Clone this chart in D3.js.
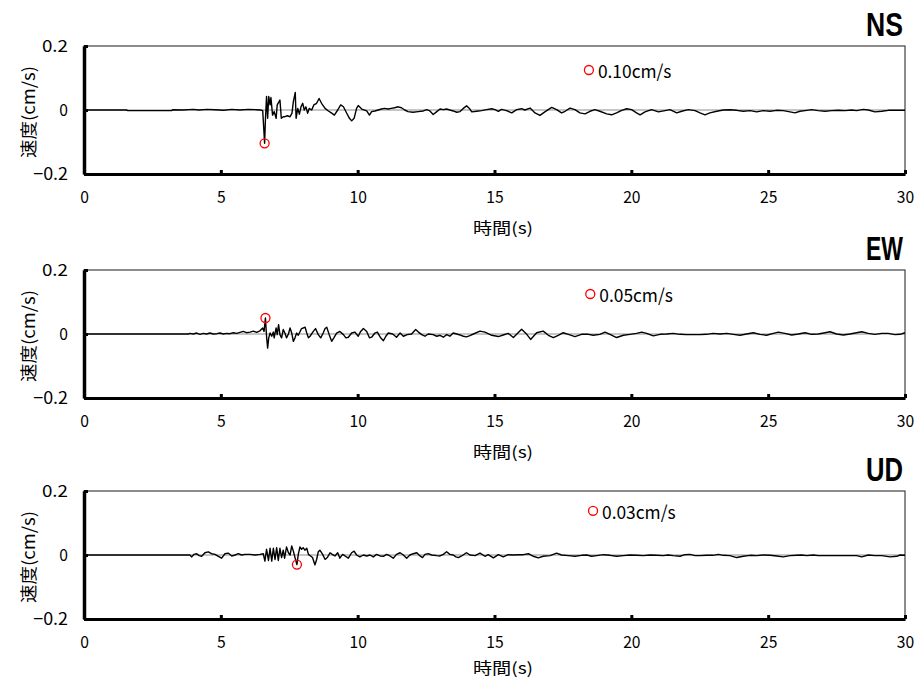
<!DOCTYPE html>
<html><head><meta charset="utf-8">
<script src="https://cdn.jsdelivr.net/npm/d3@7"></script>
<style>body{margin:0;background:#fff} svg{display:block}</style>
</head><body><svg id="c" width="918" height="682"></svg>
<script>
const componentNames = ["NS", "EW", "UD"];
const peakLabels = ["0.10cm/s", "0.05cm/s", "0.03cm/s"];
const xTickValues = [0, 5, 10, 15, 20, 25, 30];
const yTickValues = [-0.2, 0, 0.2];
const yTickLabels = ["\u22120.2", "0", "0.2"];
const xAxisTitle = "時間(s)";
const yAxisTitle = "速度(cm/s)";

// [time (s), velocity (cm/s)]
const nsWave = [[0,0],[1.55,0],[1.6,-0.002],[3.2,-0.002],[3.25,0.001],[3.6,0],[4.0,0.002],[4.2,0],[4.5,0.002],[4.8,0.001],[5.1,-0.001],[5.4,0.002],[5.7,0],[6.0,0.002],[6.3,0.001],[6.45,0],
[6.53,-0.002],[6.60,-0.104],[6.63,-0.03],[6.67,0.042],[6.71,-0.026],[6.75,0.042],[6.80,0.016],[6.83,0.039],[6.89,-0.016],[6.95,-0.005],[7.02,-0.026],[7.06,0.016],[7.16,0.031],[7.21,-0.026],[7.28,-0.021],[7.34,-0.021],[7.43,-0.018],[7.53,-0.021],[7.60,-0.010],[7.65,0.026],[7.72,0.055],[7.75,-0.026],[7.81,0.005],[7.87,-0.013],[7.93,0.010],[7.99,0.021],[8.05,0],[8.11,0.010],[8.17,-0.010],[8.23,0.005],[8.32,0],[8.40,0.016],[8.50,0.021],[8.59,0.036],[8.68,0.021],[8.81,0.005],[8.93,-0.003],[9.05,-0.010],[9.15,-0.016],[9.27,0],[9.38,0.016],[9.48,0.010],[9.60,-0.010],[9.70,-0.026],[9.78,-0.034],[9.87,-0.026],[9.96,0.005],[10.02,0.014],[10.15,0.003],[10.33,-0.003],[10.43,-0.016],[10.51,-0.005],[10.63,-0.003],[10.75,0],[10.87,0.003],[10.99,0.005],[11.11,0.003],[11.23,0.005],[11.35,0.007],[11.48,0.010],[11.60,0.007],[11.72,0],[11.84,-0.005],[12.02,-0.007],[12.21,-0.005],[12.40,-0.003],[12.52,0.001],[12.64,-0.003],[12.76,-0.014],[12.89,-0.005],[13.01,0.003],[13.13,0.001],[13.25,0.003],[13.37,0],[13.49,-0.003],[13.62,-0.007],[13.74,-0.005],[13.86,0.005],[13.98,0.013],[14.10,0.003],
[14.17,-0.006],[14.35,-0.004],[14.53,-0.002],[14.71,0.001],[14.90,0.004],[15.02,0.001],[15.14,-0.004],[15.26,0.002],[15.44,-0.002],[15.63,-0.009],[15.81,0.001],[15.99,0.004],[16.11,0],[16.30,0.006],[16.48,-0.009],[16.66,-0.017],[16.84,-0.006],[17.09,0.008],[17.27,0.001],[17.45,-0.009],[17.58,-0.004],[17.76,0.006],[17.94,0.001],[18.12,-0.009],[18.31,-0.012],[18.49,-0.004],[18.67,0.001],[18.85,-0.004],[19.10,-0.012],[19.28,-0.015],[19.46,-0.009],[19.65,-0.001],[19.83,0.004],[20.01,0.001],[20.19,-0.009],[20.32,-0.015],[20.50,-0.006],[20.74,0.001],[20.99,-0.006],[21.23,-0.002],[21.41,0.001],[21.66,-0.009],[21.84,-0.004],[22.08,0.001],[22.33,-0.002],[22.51,-0.009],[22.69,-0.015],[22.87,-0.009],[23.12,-0.004],[23.36,0],[23.60,0.001],[23.85,-0.001],[24.09,-0.004],[24.34,-0.002],[24.58,-0.006],[24.82,-0.002],[25.07,-0.004],[25.31,-0.001],[25.55,-0.002],[25.80,-0.006],[25.98,-0.009],[26.16,-0.004],[26.41,-0.001],[26.59,0.001],[26.83,-0.002],[27.08,-0.004],[27.32,-0.002],[27.56,-0.001],[27.81,-0.002],[28.05,0],[28.23,-0.002],[28.48,0.002],[28.66,0],[28.90,-0.006],[29.15,-0.004],[29.39,-0.001],[29.57,-0.001],[30,-0.001]];

const ewWave = [[0,0],[3.81,0],[3.87,0.002],[3.99,0],[4.12,0.003],[4.24,-0.001],[4.36,0.002],[4.48,0],[4.60,0.003],[4.73,0],[4.85,0.001],[4.97,0.003],[5.09,0],[5.21,0.002],[5.33,0.001],[5.46,0.004],[5.58,0.002],[5.70,0.005],[5.82,0.008],[5.94,0.004],[6.07,0.006],[6.19,0.009],[6.31,0.005],[6.43,0.010],[6.53,0.019],[6.58,0.008],[6.63,0.050],[6.67,-0.007],[6.71,-0.044],[6.75,-0.012],[6.80,0.003],[6.86,-0.007],[6.92,0.006],[6.95,-0.012],[7.02,0.019],[7.06,-0.002],[7.11,0.029],[7.16,-0.002],[7.22,-0.012],[7.28,0.014],[7.34,0.003],[7.40,-0.012],[7.47,0],[7.53,0.019],[7.59,0.003],[7.65,-0.023],[7.71,-0.012],[7.77,0.003],[7.83,-0.004],[7.95,0.017],[8.08,0.021],[8.14,0.003],[8.20,-0.012],[8.26,-0.007],[8.38,0.008],[8.46,0.017],[8.56,-0.002],[8.65,-0.012],[8.74,0.003],[8.81,0.017],[8.87,0.021],[8.96,-0.002],[9.05,-0.023],[9.13,-0.012],[9.23,0.003],[9.35,0.008],[9.48,-0.002],[9.57,-0.012],[9.66,-0.010],[9.78,0.003],[9.90,0.006],[10.02,-0.007],[10.11,0.008],[10.21,0.017],[10.33,0.008],[10.43,-0.012],[10.51,-0.010],[10.63,0.003],[10.72,0.006],[10.84,-0.012],[10.94,-0.021],[11.03,-0.007],[11.12,0.003],[11.28,0],[11.42,-0.010],[11.55,0.003],[11.67,-0.007],[11.81,-0.002],[11.97,0],[12.12,0.014],[12.22,0.006],[12.34,-0.002],[12.46,-0.007],[12.58,0],[12.76,-0.002],[12.89,-0.007],[13.01,-0.004],[13.13,-0.010],[13.25,-0.002],[13.37,-0.007],[13.49,0.003],[13.62,0],[13.74,-0.003],[13.86,-0.007],[13.98,-0.009],[14.10,-0.005],
[14.23,0],[14.47,0.009],[14.65,0.006],[14.90,-0.004],[15.14,-0.008],[15.32,-0.003],[15.50,0.002],[15.69,-0.011],[15.99,0.015],[16.18,-0.001],[16.32,-0.017],[16.54,0.004],[16.78,0.009],[16.97,-0.004],[17.15,-0.011],[17.33,-0.004],[17.51,0.004],[17.70,-0.001],[17.94,-0.008],[18.18,-0.001],[18.43,-0.001],[18.61,-0.004],[18.85,-0.001],[19.04,0.006],[19.22,-0.001],[19.46,-0.011],[19.71,-0.004],[19.95,-0.001],[20.19,0.002],[20.38,0.006],[20.56,0.002],[20.80,-0.006],[21.05,-0.001],[21.29,0],[21.53,0.002],[21.78,-0.001],[22.02,-0.002],[22.26,-0.002],[22.51,-0.002],[22.75,-0.001],[22.99,0.002],[23.24,0],[23.48,0.002],[23.73,-0.001],[23.97,-0.004],[24.21,0],[24.46,0.004],[24.70,-0.001],[24.94,-0.004],[25.19,0.002],[25.37,0.006],[25.61,0.002],[25.86,-0.003],[26.10,0],[26.35,0.004],[26.59,-0.001],[26.83,0],[27.08,0.004],[27.26,0.007],[27.50,0],[27.75,-0.003],[27.99,0],[28.23,0.004],[28.42,0.007],[28.66,0.002],[28.90,-0.001],[29.15,0.002],[29.39,0.002],[29.63,-0.002],[29.82,-0.001],[30,0.004]];

const udWave = [[0,0],[3.87,0],[3.93,-0.006],[4.02,0.002],[4.12,0.004],[4.21,-0.002],[4.30,-0.004],[4.42,0.007],[4.54,0.010],[4.66,0.004],[4.79,0.002],[4.91,-0.004],[5.03,-0.010],[5.15,0.004],[5.27,0.006],[5.40,-0.003],[5.52,0],[5.64,0.004],[5.76,0],[5.88,0.002],[6.07,0.002],[6.25,0],[6.43,0.002],[6.55,0.004],[6.61,-0.019],[6.67,0.018],[6.74,-0.017],[6.80,0.021],[6.86,-0.019],[6.92,0.021],[6.98,-0.014],[7.04,0.023],[7.10,-0.017],[7.16,0.021],[7.22,-0.008],[7.28,0.015],[7.33,-0.010],[7.40,0.025],[7.47,0.007],[7.53,0],[7.59,0.028],[7.65,0.012],[7.71,-0.008],[7.78,-0.030],[7.83,0.002],[7.89,0.025],[7.95,0.018],[8.01,0.023],[8.07,0.015],[8.14,0.021],[8.20,0.002],[8.28,-0.003],[8.35,-0.008],[8.44,-0.031],[8.50,-0.014],[8.56,0.010],[8.62,0.015],[8.72,0.002],[8.81,-0.014],[8.89,-0.008],[8.99,0.007],[9.07,0.002],[9.17,-0.003],[9.27,0.007],[9.35,-0.010],[9.45,0.002],[9.54,-0.003],[9.66,-0.010],[9.78,0.007],[9.87,0.012],[9.96,0],[10.08,-0.006],[10.21,0],[10.33,-0.003],[10.45,0],[10.57,-0.006],[10.69,0.002],[10.82,-0.003],[10.94,-0.004],[11.06,0.002],[11.18,-0.003],[11.30,-0.010],[11.42,0.002],[11.55,0.007],[11.67,0],[11.79,-0.010],[11.91,0],[12.03,0.004],[12.16,0.007],[12.28,-0.003],[12.37,-0.008],[12.46,0.002],[12.58,0.004],[12.70,0],[12.89,-0.002],[13.01,-0.003],[13.13,0.002],[13.25,0.010],[13.37,0.002],[13.49,0],[13.59,-0.006],[13.68,-0.008],[13.80,-0.003],[13.92,0.004],[13.98,0.007],[14.10,0],
[14.29,-0.002],[14.47,0.006],[14.65,-0.004],[14.77,0.001],[14.96,-0.009],[15.14,0.001],[15.32,-0.006],[15.50,0.001],[15.69,0],[15.87,0.001],[16.05,0.001],[16.24,0.004],[16.42,-0.004],[16.60,-0.009],[16.78,-0.004],[17.03,-0.002],[17.27,0.006],[17.45,0],[17.70,-0.002],[17.94,-0.004],[18.18,-0.001],[18.37,0],[18.55,-0.004],[18.73,-0.002],[18.98,0.001],[19.22,-0.001],[19.46,-0.004],[19.71,-0.002],[19.95,0],[20.19,-0.001],[20.44,-0.002],[20.68,0],[20.92,-0.001],[21.17,-0.002],[21.35,0],[21.53,-0.002],[21.78,-0.004],[21.96,0.001],[22.14,0.002],[22.33,-0.002],[22.51,-0.002],[22.75,-0.001],[22.99,-0.001],[23.18,0.002],[23.36,-0.001],[23.60,-0.002],[23.85,-0.008],[24.09,-0.004],[24.34,-0.001],[24.58,-0.002],[24.82,0],[25.07,-0.001],[25.31,-0.003],[25.55,-0.006],[25.80,-0.002],[26.04,-0.001],[26.22,0],[26.41,-0.002],[26.65,0],[26.83,-0.002],[27.14,-0.002],[27.50,-0.002],[27.87,-0.002],[28.23,-0.002],[28.42,-0.006],[28.66,0],[28.90,-0.002],[29.15,-0.002],[29.45,-0.006],[29.70,-0.004],[29.82,0],[30,-0.001]];

const nsPeak = [6.60, -0.104];
const ewPeak = [6.63, 0.050];
const udPeak = [7.78, -0.030];

const waves = [nsWave, ewWave, udWave];
const peaks = [nsPeak, ewPeak, udPeak];

// layout
const left = 84, right = 905, ph = 128;
const tops = [46, 270, 491];
const xTitleOffset = [53, 53, 48];
const legendAt = [[18.45, 0.125], [18.5, 0.125], [18.6, 0.138]];
const cjk = "'Noto Sans CJK JP', 'Noto Sans', sans-serif";

const svg = d3.select("#c");
svg.append("rect").attr("width", 918).attr("height", 682).attr("fill", "#fff");

const x = d3.scaleLinear().domain([0, 30]).range([left, right]);
const y = d3.scaleLinear().domain([-0.2, 0.2]).range([ph, 0]);
const line = d3.line().x(d => x(d[0])).y(d => y(d[1]));

function fit(sel, perChar) {
  sel.each(function() {
    const t = this.textContent;
    let w = 0;
    for (const ch of t) w += (ch.charCodeAt(0) > 0x2fff) ? perChar * 2 : perChar;
    d3.select(this).attr("textLength", w).attr("lengthAdjust", "spacingAndGlyphs");
  });
}

componentNames.forEach((name, i) => {
  const g = svg.append("g").attr("transform", `translate(0,${tops[i]})`);

  g.append("line").attr("x1", left).attr("x2", right)
    .attr("y1", y(0)).attr("y2", y(0))
    .attr("stroke", "#8c8c8c").attr("stroke-width", 1);

  g.append("rect").attr("x", left).attr("y", 0)
    .attr("width", right - left).attr("height", ph)
    .attr("fill", "none").attr("stroke", "#404040").attr("stroke-width", 1.2);

  g.append("path").datum(waves[i]).attr("d", line)
    .attr("fill", "none").attr("stroke", "#000").attr("stroke-width", 1.4)
    .attr("stroke-linejoin", "round");

  const xa = g.append("g").attr("transform", `translate(0,${ph})`)
    .call(d3.axisBottom(x).tickValues(xTickValues).tickSize(-4).tickSizeOuter(0)
      .tickPadding(17).tickFormat(d3.format("d")));
  xa.select(".domain").attr("stroke", "#000").attr("stroke-width", 3);
  xa.selectAll(".tick line").attr("stroke", "#000").attr("stroke-width", 3);
  xa.selectAll("text").attr("font-family", cjk).attr("font-size", 17).attr("fill", "#000")
    .call(fit, 8.7);

  const ya = g.append("g").attr("transform", `translate(${left},0)`)
    .call(d3.axisLeft(y).tickValues(yTickValues).tickSize(-4).tickSizeOuter(0)
      .tickPadding(16).tickFormat((d, k) => yTickLabels[k]));
  ya.select(".domain").attr("stroke", "#000").attr("stroke-width", 3.5);
  ya.selectAll(".tick line").attr("stroke", "#000").attr("stroke-width", 3);
  ya.selectAll("text").attr("font-family", cjk).attr("font-size", 17).attr("fill", "#000")
    .call(fit, 8.7);

  g.append("circle").attr("cx", x(peaks[i][0])).attr("cy", y(peaks[i][1])).attr("r", 4.5)
    .attr("fill", "none").attr("stroke", "#ff0000").attr("stroke-width", 1.3);

  const lx = x(legendAt[i][0]), ly = y(legendAt[i][1]);
  g.append("circle").attr("cx", lx).attr("cy", ly).attr("r", 4.5)
    .attr("fill", "none").attr("stroke", "#ff0000").attr("stroke-width", 1.3);
  g.append("text").attr("x", lx + 9).attr("y", ly).attr("dominant-baseline", "central")
    .attr("font-family", cjk).attr("font-size", 18).attr("fill", "#000")
    .text(peakLabels[i]).call(fit, 9.2);

  g.append("text").attr("x", right - 2).attr("y", -10).attr("text-anchor", "end")
    .attr("font-family", "'Liberation Sans', Arial, sans-serif").attr("font-weight", "bold")
    .attr("font-size", 33).attr("fill", "#000")
    .attr("textLength", 37).attr("lengthAdjust", "spacingAndGlyphs")
    .text(name);

  g.append("text").attr("x", 503).attr("y", ph + xTitleOffset[i]).attr("text-anchor", "middle")
    .attr("dominant-baseline", "central")
    .attr("font-family", cjk).attr("font-size", 16).attr("fill", "#000")
    .text(xAxisTitle).call(fit, 8.6);

  g.append("text").attr("transform", `translate(27,${ph / 2 + 2}) rotate(-90)`)
    .attr("text-anchor", "middle").attr("dominant-baseline", "central")
    .attr("font-family", cjk).attr("font-size", 17).attr("fill", "#000")
    .text(yAxisTitle).call(fit, 9.2);
});
</script>
</body></html>
